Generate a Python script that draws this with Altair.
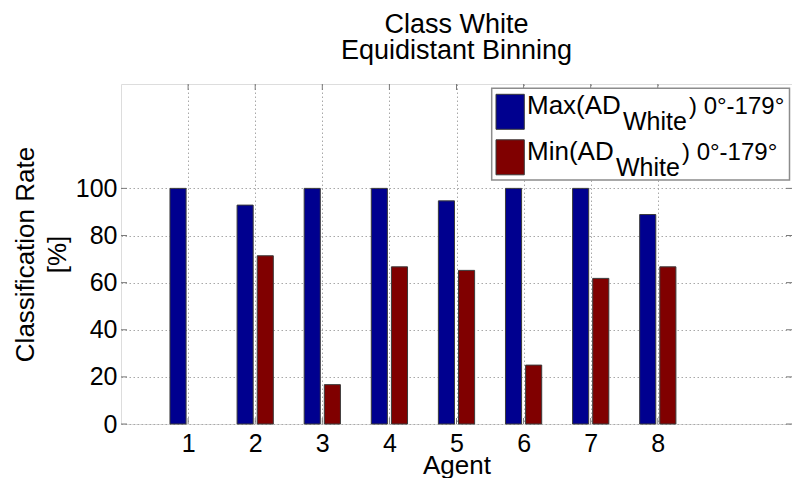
import altair as alt
import pandas as pd

# ---------------- data ----------------
agents = [1, 2, 3, 4, 5, 6, 7, 8]
max_white = [100, 92.9, 100, 100, 94.7, 100, 100, 88.9]
min_white = [0, 71.4, 16.7, 66.7, 65.2, 25.0, 61.8, 66.7]
series = ["Max", "Min"]
colors = ["#00008F", "#800000"]
y_ticks = [0, 20, 40, 60, 80, 100]
title_lines = ["Class White", "Equidistant Binning"]
y_title = ["Classification Rate", "[%]"]
x_title = "Agent"
legend_sub = "White"
legend_suffix = ") 0\u00b0-179\u00b0"

W, H = 671, 340
FONT = "Liberation Sans"
FS = 25

df = pd.DataFrame({"agent": agents, "Max": max_white, "Min": min_white})

x_scale = alt.Scale(domain=[0, 10], nice=False, zero=False)
y_scale = alt.Scale(domain=[0, 144.3], nice=False)

grid_kw = dict(grid=True, gridDash=[1.5, 2.5], gridColor="#a8a8a8", gridWidth=1)

x_axis = alt.Axis(
    values=agents, format="d", labelFontSize=FS, labelFont=FONT,
    labelColor="black", labelPadding=7, ticks=False, tickSize=0,
    domain=False, title=x_title, titleFontSize=26, titleFont=FONT,
    titleFontWeight="normal", titleColor="black", titleY=49,
    titleBaseline="alphabetic", **grid_kw,
)
y_axis = alt.Axis(
    values=y_ticks, labelFontSize=FS, labelFont=FONT,
    labelColor="black", labelPadding=4, ticks=False, tickSize=0,
    domain=False, title=y_title, titleFontSize=26, titleFont=FONT,
    titleFontWeight="normal", titleColor="black", titleX=-88,
    titleY=H / 2, titleBaseline="alphabetic", titleLineHeight=32,
    **grid_kw,
)

bars = (
    alt.Chart(df)
    .transform_fold(series, as_=["series", "value"])
    .transform_calculate(
        x0="datum.agent + (datum.series == 'Max' ? -0.27 : 0.03)",
        x1="datum.agent + (datum.series == 'Max' ? -0.03 : 0.27)",
    )
    .mark_rect(stroke="#3a3a3a", strokeWidth=1)
    .encode(
        x=alt.X("x0:Q", scale=x_scale, axis=x_axis),
        x2="x1:Q",
        y=alt.Y("value:Q", scale=y_scale, axis=y_axis),
        y2=alt.datum(0),
        color=alt.Color("series:N", scale=alt.Scale(domain=series, range=colors), legend=None),
        strokeOpacity=alt.condition("datum.value > 0", alt.value(1), alt.value(0)),
    )
)

# inward ticks on all four sides (same field names as the bars so axes merge)
yt = pd.DataFrame({"value": y_ticks})
xt = pd.DataFrame({"x0": agents})
tick_style = dict(color="#7a7a7a", strokeWidth=1)
yl = alt.Chart(yt).mark_rule(**tick_style).encode(
    y=alt.Y("value:Q", scale=y_scale, axis=y_axis), x=alt.value(0), x2=alt.value(6))
yr = alt.Chart(yt).mark_rule(**tick_style).encode(
    y=alt.Y("value:Q", scale=y_scale, axis=y_axis), x=alt.value(W - 6), x2=alt.value(W))
xb = alt.Chart(xt).mark_rule(**tick_style).encode(
    x=alt.X("x0:Q", scale=x_scale, axis=x_axis), y=alt.value(H - 6), y2=alt.value(H))
xtp = alt.Chart(xt).mark_rule(**tick_style).encode(
    x=alt.X("x0:Q", scale=x_scale, axis=x_axis), y=alt.value(0), y2=alt.value(6))

# legend (manual, to allow subscript)
one = pd.DataFrame({"i": [0]})
leg_box = alt.Chart(one).mark_rect(fill="white", stroke="#8c8c8c", strokeWidth=1.5).encode(
    x=alt.value(370.7), x2=alt.value(668.5), y=alt.value(4.3), y2=alt.value(96))

leg_layers = [leg_box]
row_dy = 45.5
sub_x = [502, 495]
suf_x = [568, 561]
for i, (s, c) in enumerate(zip(series, colors)):
    y0 = 10.3 + i * row_dy
    leg_layers.append(
        alt.Chart(one).mark_rect(fill=c, stroke="#3a3a3a", strokeWidth=1).encode(
            x=alt.value(375), x2=alt.value(403.3), y=alt.value(y0), y2=alt.value(y0 + 35)))
    base_y = 30.3 + i * row_dy
    leg_layers.append(
        alt.Chart(one).mark_text(text=f"{s}(AD", align="left", baseline="alphabetic",
                                 font=FONT, fontSize=26, color="black").encode(
            x=alt.value(406), y=alt.value(base_y)))
    leg_layers.append(
        alt.Chart(one).mark_text(text=legend_sub, align="left", baseline="alphabetic",
                                 font=FONT, fontSize=25, color="black").encode(
            x=alt.value(sub_x[i]), y=alt.value(base_y + 15.7)))
    leg_layers.append(
        alt.Chart(one).mark_text(text=legend_suffix, align="left", baseline="alphabetic",
                                 font=FONT, fontSize=24, color="black").encode(
            x=alt.value(suf_x[i]), y=alt.value(base_y)))

chart = (
    alt.layer(bars, yl, yr, xb, xtp, *leg_layers)
    .properties(
        width=W,
        height=H,
        title=alt.TitleParams(
            text=title_lines, fontSize=27, font=FONT, fontWeight="normal",
            color="black", anchor="middle", baseline="alphabetic", offset=-2,
            lineHeight=26,
        ),
        autosize=alt.AutoSizeParams(type="none"),
        padding={"left": 113, "top": 76, "right": 0, "bottom": 54},
    )
    .configure_view(stroke="#8c8c8c", strokeWidth=1.5)
    .configure(background="white")
)

chart.save("out.html", embed_options={"renderer": "svg", "actions": False})
